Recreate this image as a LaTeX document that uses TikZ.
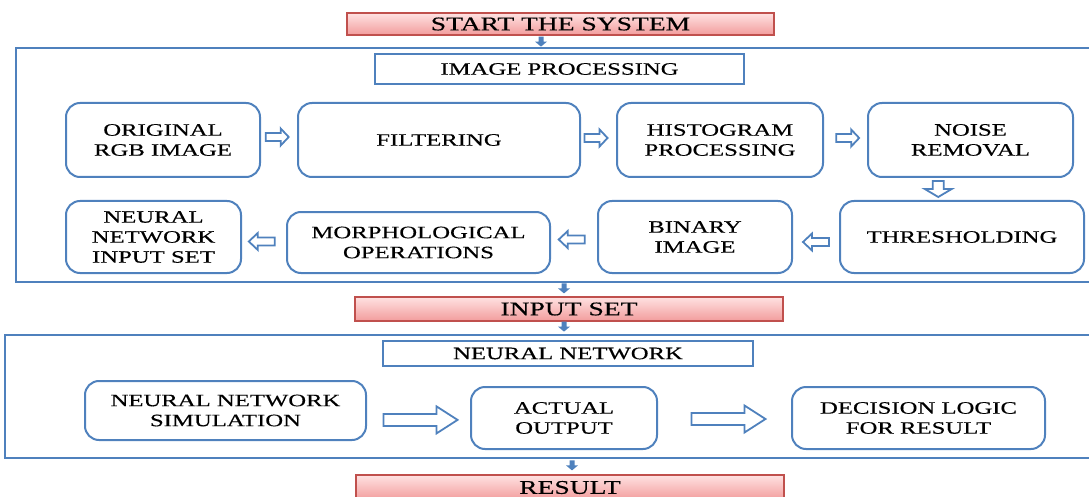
\documentclass[tikz,border=0pt]{standalone}
\usepackage{fontspec}
\setmainfont{Liberation Serif}[FakeStretch=1.42,FakeBold=0.4]
\usetikzlibrary{calc,shadows}

\definecolor{frameblue}{HTML}{4F81BD}
\definecolor{titlered}{HTML}{C0504D}
\definecolor{titletop}{HTML}{FFE2E2}
\definecolor{titlebot}{HTML}{F29C9C}

\newcommand{\boxfont}{\fontsize{17.4}{20}\selectfont}
\newcommand{\titlefont}{\fontsize{19.4}{22}\selectfont}

% block arrow: #1 style, #2 centre, #3 rotation, #4 length, #5 shaft width, #6 head width, #7 head length
\newcommand{\blockarrow}[7]{%
  \draw[#1, shift={#2}, rotate=#3]
    (-#4/2,-#5/2) -- (#4/2-#7,-#5/2) -- (#4/2-#7,-#6/2) -- (#4/2,0)
    -- (#4/2-#7,#6/2) -- (#4/2-#7,#5/2) -- (-#4/2,#5/2) -- cycle;}

\begin{document}
\begin{tikzpicture}[x=1pt,y=-1pt,
  titlebox/.style={draw=titlered, line width=1.2pt, top color=titletop,
    bottom color=titlebot, inner sep=0pt, font=\titlefont,
    drop shadow={shadow xshift=1.3pt, shadow yshift=-1.3pt, opacity=0.3}},
  headbox/.style={draw=frameblue, line width=2.2pt, fill=white, inner sep=0pt,
    font=\boxfont},
  stepbox/.style={draw=frameblue, line width=2pt, rounded corners=14pt,
    align=center, inner sep=0pt, font=\boxfont},
  outerbox/.style={draw=frameblue, line width=2.2pt},
  hollow/.style={draw=frameblue, line width=1.8pt, fill=white, line join=miter},
  solidflow/.style={fill=frameblue, draw=none},
]
\clip (0,0) rectangle (1089,497);

% frames of the two stages
\draw[outerbox] (16,48) rectangle (1100,282);
\draw[outerbox] (5,335) rectangle (1100,458);

% stage titles
\node[titlebox, minimum width=427pt, minimum height=22pt] (start) at (560.5,24) {START THE SYSTEM};
\node[titlebox, minimum width=428pt, minimum height=24pt] (input) at (569,309) {INPUT SET};
\node[titlebox, minimum width=428pt, minimum height=25pt] (result) at (570,487.5) {RESULT};

% stage headers
\node[headbox, minimum width=369pt, minimum height=30pt] (improc) at (559.5,69) {IMAGE PROCESSING};
\node[headbox, minimum width=370pt, minimum height=25pt] (nnet) at (568,353.5) {NEURAL NETWORK};

% image processing steps
\node[stepbox, minimum width=194pt, minimum height=74pt] (orig) at (163,140) {ORIGINAL\\RGB IMAGE};
\node[stepbox, minimum width=282pt, minimum height=74pt] (filt) at (439,140) {FILTERING};
\node[stepbox, minimum width=206pt, minimum height=74pt] (hist) at (720,140) {HISTOGRAM\\PROCESSING};
\node[stepbox, minimum width=205pt, minimum height=74pt] (noise) at (970.5,140) {NOISE\\REMOVAL};
\node[stepbox, minimum width=175pt, minimum height=72pt] (nnis) at (153.5,237) {NEURAL\\NETWORK\\INPUT SET};
\node[stepbox, minimum width=263pt, minimum height=61pt] (morph) at (418.5,242.5) {MORPHOLOGICAL\\OPERATIONS};
\node[stepbox, minimum width=194pt, minimum height=72pt] (binary) at (695,237) {BINARY\\IMAGE};
\node[stepbox, minimum width=244pt, minimum height=72pt] (thresh) at (962,237) {THRESHOLDING};

% neural network steps
\node[stepbox, minimum width=281pt, minimum height=59pt] (sim) at (225.5,410.5) {NEURAL NETWORK\\SIMULATION};
\node[stepbox, minimum width=186pt, minimum height=62pt] (actual) at (564,418) {ACTUAL\\OUTPUT};
\node[stepbox, minimum width=253pt, minimum height=62pt] (decide) at (918.5,418) {DECISION LOGIC\\FOR RESULT};

% flow arrows inside the image processing stage
\blockarrow{hollow}{($(orig.east)!0.45!(filt.west)+(0,-3)$)}{0}{23}{8}{17}{8}
\blockarrow{hollow}{($(filt.east)!0.43!(hist.west)+(0,-2)$)}{0}{23}{8}{17}{8}
\blockarrow{hollow}{($(hist.east)!0.55!(noise.west)+(0,-2)$)}{0}{23}{8}{17}{8}
\blockarrow{hollow}{($(noise.south)!0.5!(thresh.north)+(-28,0)$)}{-90}{16}{11}{27}{8}
\blockarrow{hollow}{($(thresh.west)!0.5!(binary.east)+(0,5)$)}{180}{26}{8}{17}{9}
\blockarrow{hollow}{($(binary.west)!0.55!(morph.east)+(0,-0.5)$)}{180}{26}{8}{17}{9}
\blockarrow{hollow}{($(morph.west)!0.55!(nnis.east)+(0,2)$)}{180}{26}{8}{17}{9}

% flow arrows inside the neural network stage
\blockarrow{hollow}{($(sim.east)!0.52!(actual.west)+(0,5.5)$)}{0}{74}{12}{27}{21}
\blockarrow{hollow}{($(actual.east)!0.53!(decide.west)+(0,1)$)}{0}{74}{12}{27}{21}

% arrows between the stages
\blockarrow{solidflow}{($(start.south)+(-19.5,6)$)}{-90}{10}{5}{12}{5}
\blockarrow{solidflow}{($(input.north)+(-5,-8)$)}{-90}{10}{5}{12}{5}
\blockarrow{solidflow}{($(input.south)+(-5,5)$)}{-90}{10}{5}{12}{5}
\blockarrow{solidflow}{($(result.north)+(2,-9)$)}{-90}{10}{5}{12}{5}
\end{tikzpicture}
\end{document}
